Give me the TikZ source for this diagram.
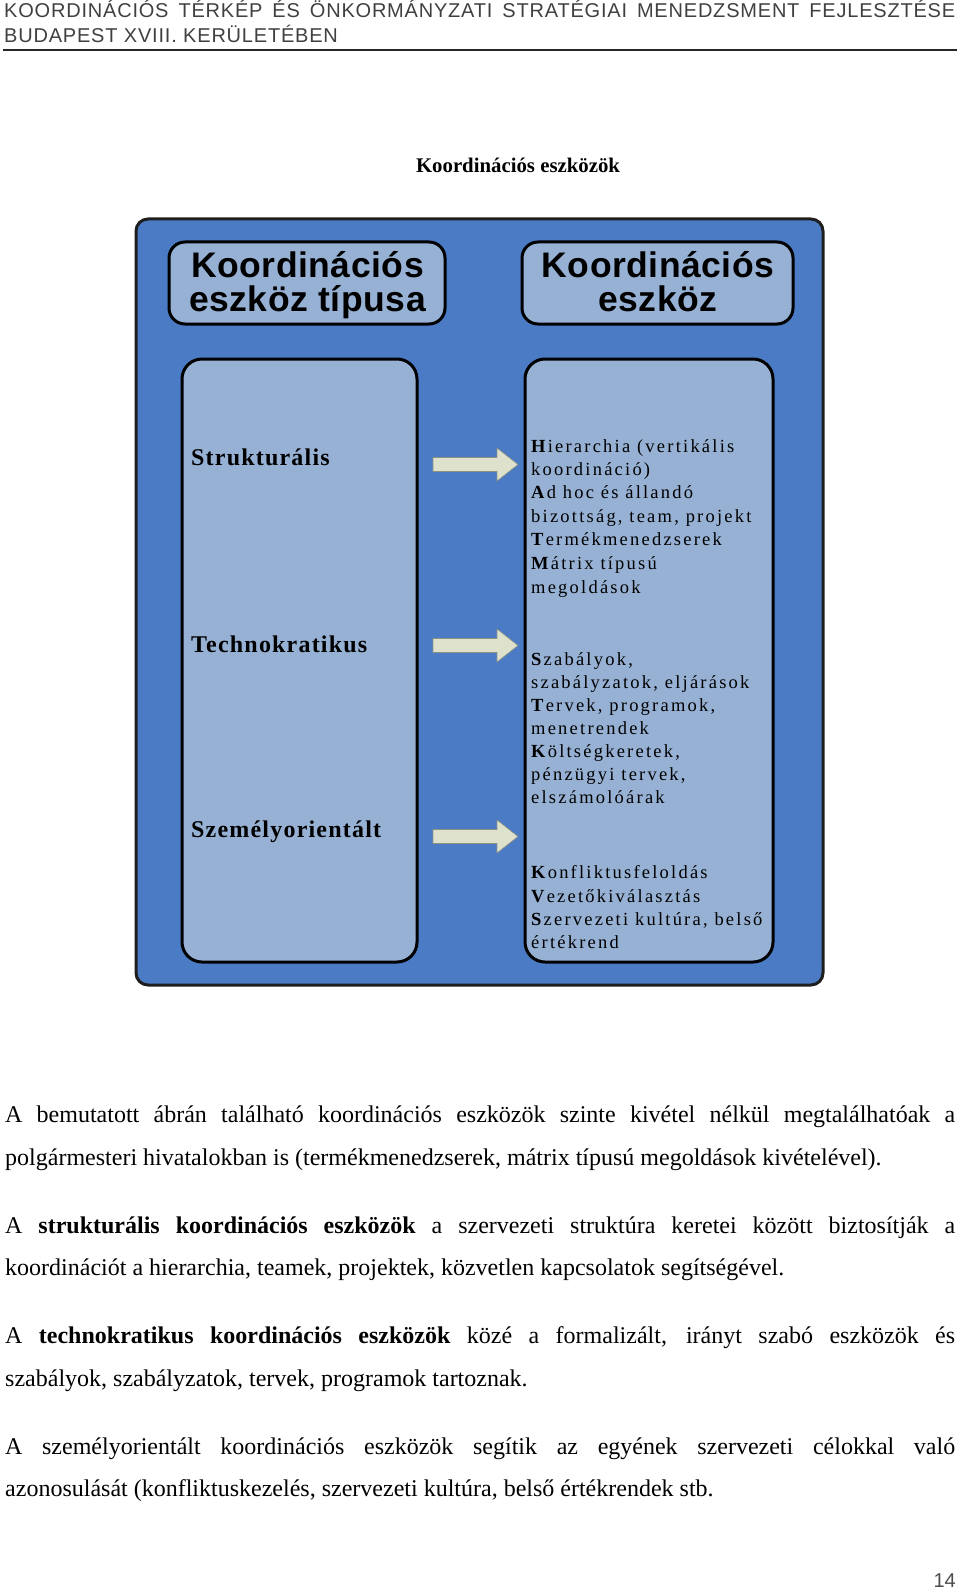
\documentclass[tikz,border=0pt]{standalone}
\usepackage{fontspec}
\setmainfont{Liberation Serif}
\newfontfamily\hdrfont[LetterSpace=4]{Liberation Sans}
\newfontfamily\pgfont{Liberation Sans}
\newfontfamily\boxsans[LetterSpace=1.5]{Liberation Sans}
\newfontfamily\lblfont[LetterSpace=5]{Liberation Serif}
\newfontfamily\lstfont[LetterSpace=12]{Liberation Serif}
\definecolor{outerblue}{HTML}{4A7BC4}
\definecolor{lightblue}{HTML}{96B1D4}
\definecolor{arrowfill}{HTML}{DEE2CD}
\definecolor{arrowedge}{HTML}{8C9282}
\definecolor{borderdark}{HTML}{1E1E1E}
\definecolor{hdrgray}{HTML}{404040}
\tikzset{
  outerbox/.style={draw=borderdark, fill=outerblue, line width=3pt, rounded corners=12pt, inner sep=0pt},
  lightbox/.style={draw=black, fill=lightblue, line width=3pt, rounded corners=16pt, inner sep=0pt},
  headtxt/.style={anchor=base, inner sep=0pt, font=\boxsans\bfseries\fontsize{35.5}{35.5}\selectfont},
  lbltxt/.style={anchor=base west, inner sep=0pt, font=\lblfont\bfseries\fontsize{24}{24}\selectfont},
  lsttxt/.style={anchor=base west, inner sep=0pt, font=\lstfont\fontsize{18.5}{18.5}\selectfont},
  bodytxt/.style={anchor=base west, inner sep=0pt, font=\fontsize{24}{24}\selectfont},
  blockarrow/.style={fill=arrowfill, draw=arrowedge, line width=0.6pt}
}
\newcommand\myarrow[2]{%
  \coordinate (#1) at (433,#2);
  \path[blockarrow] (433,#2-7) -- (497,#2-7) -- (497,#2-16.5) -- (518,#2) -- (497,#2+16.5) -- (497,#2+7) -- (433,#2+7) -- cycle;
}
\begin{document}
\begin{tikzpicture}[x=1pt,y=-1pt]
\useasboundingbox (0,0) rectangle (960,1589);
% header
\node[anchor=base west, inner sep=0pt, text=hdrgray, font=\hdrfont\fontsize{20}{20}\selectfont] (h1) at (4,18)
  {\makebox[951pt][s]{KOORDINÁCIÓS TÉRKÉP ÉS ÖNKORMÁNYZATI STRATÉGIAI MENEDZSMENT FEJLESZTÉSE}};
\node[anchor=base west, inner sep=0pt, text=hdrgray, font=\hdrfont\fontsize{20}{20}\selectfont] (h2) at (4,43)
  {BUDAPEST XVIII. KERÜLETÉBEN};
\coordinate (rl) at (3,50);
\coordinate (rr) at (957,50);
\draw[line width=1.5pt, color=black!85] (rl) -- (rr);
% title
\node[anchor=base, inner sep=0pt, font=\bfseries\fontsize{20.8}{20.8}\selectfont] (title) at (518,173) {Koordinációs eszközök};
% boxes
\node[outerbox, minimum width=687pt, minimum height=766pt] (outer) at (479.5,602) {};
\node[lightbox, minimum width=276pt, minimum height=82pt] (tl) at (307,283) {};
\node[lightbox, minimum width=271pt, minimum height=82pt] (tr) at (657.5,283) {};
\node[lightbox, rounded corners=20pt, minimum width=235pt, minimum height=603pt] (bl) at (299.5,660.5) {};
\node[lightbox, rounded corners=20pt, minimum width=248pt, minimum height=603pt] (br) at (649,660.5) {};
% header box texts
\node[headtxt] (tl1) at (307.5,277) {Koordinációs};
\node[headtxt] (tl2) at (307.5,311) {eszköz típusa};
\node[headtxt] (tr1) at (658,277) {Koordinációs};
\node[headtxt] (tr2) at (658,311) {eszköz};
% left labels
\node[lbltxt] (s1) at (191,465) {Strukturális};
\node[lbltxt] (s2) at (191,652) {Technokratikus};
\node[lbltxt] (s3) at (191,837) {Személyorientált};
% arrows
\myarrow{a1}{464.5}
\myarrow{a2}{645.5}
\myarrow{a3}{836.5}
% right lists
\node[lsttxt] (r1) at (531,452) {\textbf{H}ierarchia (vertikális};
\node[lsttxt] (r2) at (531,475) {koordináció)};
\node[lsttxt] (r3) at (531,498) {\textbf{A}d hoc és állandó};
\node[lsttxt] (r4) at (531,522) {bizottság, team, projekt};
\node[lsttxt] (r5) at (531,545) {\textbf{T}ermékmenedzserek};
\node[lsttxt] (r6) at (531,569) {\textbf{M}átrix típusú};
\node[lsttxt] (r7) at (531,593) {megoldások};
\node[lsttxt] (r8) at (531,665) {\textbf{S}zabályok,};
\node[lsttxt] (r9) at (531,688) {szabályzatok, eljárások};
\node[lsttxt] (r10) at (531,711) {\textbf{T}ervek, programok,};
\node[lsttxt] (r11) at (531,734) {menetrendek};
\node[lsttxt] (r12) at (531,757) {\textbf{K}öltségkeretek,};
\node[lsttxt] (r13) at (531,780) {pénzügyi tervek,};
\node[lsttxt] (r14) at (531,803) {elszámolóárak};
\node[lsttxt] (r15) at (531,878) {\textbf{K}onfliktusfeloldás};
\node[lsttxt] (r16) at (531,902) {\textbf{V}ezetőkiválasztás};
\node[lsttxt] (r17) at (531,925) {\textbf{S}zervezeti kultúra, belső};
\node[lsttxt] (r18) at (531,948) {értékrend};
% body text
\node[bodytxt] (p1a) at (5,1122) {\makebox[950pt][s]{A bemutatott ábrán található koordinációs eszközök szinte kivétel nélkül megtalálhatóak a}};
\node[bodytxt] (p1b) at (5,1165) {polgármesteri hivatalokban is (termékmenedzserek, mátrix típusú megoldások kivételével).};
\node[bodytxt] (p2a) at (5,1233) {\makebox[950pt][s]{A \textbf{strukturális koordinációs eszközök} a szervezeti struktúra keretei között biztosítják a}};
\node[bodytxt] (p2b) at (5,1275) {koordinációt a hierarchia, teamek, projektek, közvetlen kapcsolatok segítségével.};
\node[bodytxt] (p3a) at (5,1343) {\makebox[950pt][s]{A \textbf{technokratikus koordinációs eszközök} közé a formalizált, irányt szabó eszközök és}};
\node[bodytxt] (p3b) at (5,1386) {szabályok, szabályzatok, tervek, programok tartoznak.};
\node[bodytxt] (p4a) at (5,1454) {\makebox[950pt][s]{A személyorientált koordinációs eszközök segítik az egyének szervezeti célokkal való}};
\node[bodytxt] (p4b) at (5,1496) {azonosulását (konfliktuskezelés, szervezeti kultúra, belső értékrendek stb.};
% page number
\node[anchor=base east, inner sep=0pt, text=black!70, font=\pgfont\fontsize{20}{20}\selectfont] (pg) at (956,1587) {14};
\end{tikzpicture}
\end{document}
